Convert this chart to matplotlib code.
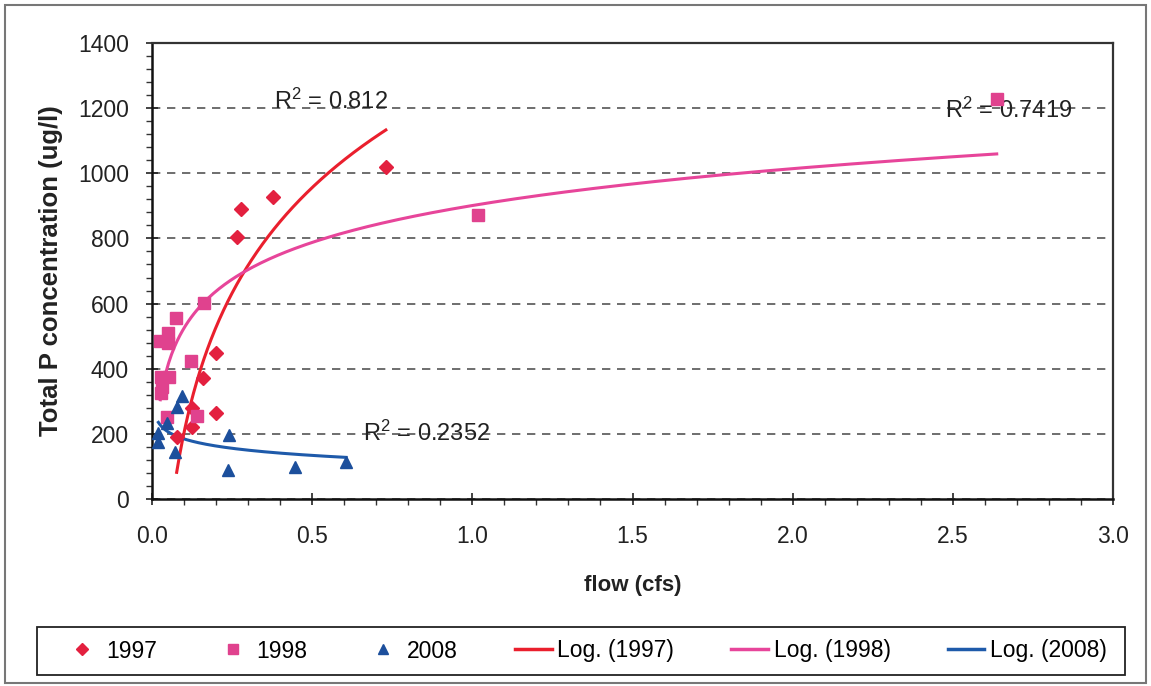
import numpy as np
import matplotlib
matplotlib.use("Agg")
import matplotlib.pyplot as plt
from matplotlib.ticker import MultipleLocator
from matplotlib.lines import Line2D
from matplotlib.patches import Rectangle

plt.rcParams['font.family'] = ['Liberation Sans', 'DejaVu Sans']
plt.rcParams['mathtext.fontset'] = 'custom'
plt.rcParams['mathtext.rm'] = 'Liberation Sans'
plt.rcParams['mathtext.it'] = 'Liberation Sans'
plt.rcParams['mathtext.default'] = 'rm'

# ---- data ----
flow_1997 = [0.077, 0.124, 0.124, 0.160, 0.200, 0.200, 0.266, 0.277, 0.377, 0.730]
tp_1997   = [191,   222,   278,   371,   265,   447,   803,   889,   926,   1020]

flow_1998 = [0.026, 0.028, 0.028, 0.030, 0.046, 0.049, 0.051, 0.053, 0.075, 0.122,
             0.140, 0.161, 1.018, 2.637]
tp_1998   = [486,   374,   325,   345,   251,   480,   509,   374,   555,   425,
             255,   603,   872,   1227]

flow_2008 = [0.020, 0.020, 0.046, 0.072, 0.077, 0.095, 0.236, 0.241, 0.446, 0.606]
tp_2008   = [176,   202,   234,   145,   282,   316,   89,    196,   97,    115]

# logarithmic trendline coefficients y = a*ln(x) + b (as drawn in the chart)
trend_a = [467.3, 163.4, -31.5]
trend_b = [1280.0, 901.0, 112.0]
r2_labels = [r"R$^{2}$ = 0.812", r"R$^{2}$ = 0.7419", r"R$^{2}$ = 0.2352"]
series_names = ["1997", "1998", "2008"]

x_ticks = [0.0, 0.5, 1.0, 1.5, 2.0, 2.5, 3.0]
y_ticks = [0, 200, 400, 600, 800, 1000, 1200, 1400]

# ---- styles ----
pt_colors = ['#E3203F', '#E0428E', '#1C4F9C']
ln_colors = ['#EA1F2D', '#E7459A', '#1E5AAA']
markers = ['D', 's', '^']
msizes = [7, 8.5, 9]

fig = plt.figure(figsize=(11.51, 6.86), dpi=100)
ax = fig.add_axes([152/1151, 1-499/686, (1113-152)/1151, (499-43)/686])

xs_all = [flow_1997, flow_1998, flow_2008]
ys_all = [tp_1997, tp_1998, tp_2008]

# trendlines
for i in range(3):
    xx = np.linspace(min(xs_all[i]), max(xs_all[i]), 300)
    ax.plot(xx, trend_a[i]*np.log(xx) + trend_b[i], color=ln_colors[i], lw=2.2, zorder=3)

# points
for i in range(3):
    ax.plot(xs_all[i], ys_all[i], linestyle='none', marker=markers[i],
            ms=msizes[i], color=pt_colors[i], mec=pt_colors[i], zorder=4)

ax.set_xlim(0, 3.0)
ax.set_ylim(0, 1400)
ax.set_xticks(x_ticks)
ax.set_xticklabels([f"{v:.1f}" for v in x_ticks])
ax.set_yticks(y_ticks)
ax.set_yticklabels([str(v) for v in y_ticks])
ax.xaxis.set_minor_locator(MultipleLocator(0.1))
ax.yaxis.set_minor_locator(MultipleLocator(40))
ax.tick_params(axis='both', which='major', direction='inout', length=9, width=1.2,
               labelsize=16.5, colors='#222222')
ax.tick_params(axis='both', which='minor', direction='out', length=4, width=1.0, colors='#333333')
ax.tick_params(axis='x', which='major', pad=14)
ax.tick_params(axis='y', which='major', pad=12)

ax.yaxis.grid(True, which='major', linestyle=(0, (5, 4)), color='#555555', lw=1.2)
ax.set_axisbelow(True)
for s in ['left', 'bottom']:
    ax.spines[s].set_color('#111111')
    ax.spines[s].set_linewidth(1.8)
for s in ['top', 'right']:
    ax.spines[s].set_color('#333333')
    ax.spines[s].set_linewidth(1.6)

ax.set_xlabel("flow (cfs)", fontsize=16, fontweight='bold', labelpad=20, color='#222222')
ax.set_ylabel("Total P concentration (ug/l)", fontsize=18.5, fontweight='bold',
              labelpad=11, color='#222222')

# R² labels
ax.text(0.382, 1222, r2_labels[0], fontsize=17, color='#222222', va='center', ha='left')
ax.text(2.475, 1193, r2_labels[1], fontsize=17, color='#222222', va='center', ha='left')
ax.text(0.658, 202, r2_labels[2], fontsize=17, color='#222222', va='center', ha='left')

# legend (frame drawn separately)
handles = [Line2D([], [], linestyle='none', marker=markers[i], ms=msizes[i]*0.85,
                  color=pt_colors[i]) for i in range(3)]
handles += [Line2D([], [], color=ln_colors[i], lw=2.5) for i in range(3)]
labels = series_names + [f"Log. ({n})" for n in series_names]
leg = fig.legend(handles, labels, loc='center', ncol=6, mode='expand',
                 bbox_to_anchor=(64/1151, 1-675/686, (1107-64)/1151, 48/686),
                 frameon=False, fontsize=16.5,
                 handlelength=1.6, handletextpad=0.25, borderaxespad=0.0, borderpad=0.0)
fig.patches.append(Rectangle((37/1151, 1-675/686), (1125-37)/1151, 48/686,
                             transform=fig.transFigure, fill=False,
                             edgecolor='#222222', lw=1.3))

# outer border
fig.patches.append(Rectangle((5/1151, 3/686), 1141/1151, 678/686, transform=fig.transFigure,
                             fill=False, edgecolor='#777777', lw=1.5))

fig.savefig("out.png", dpi=100)
